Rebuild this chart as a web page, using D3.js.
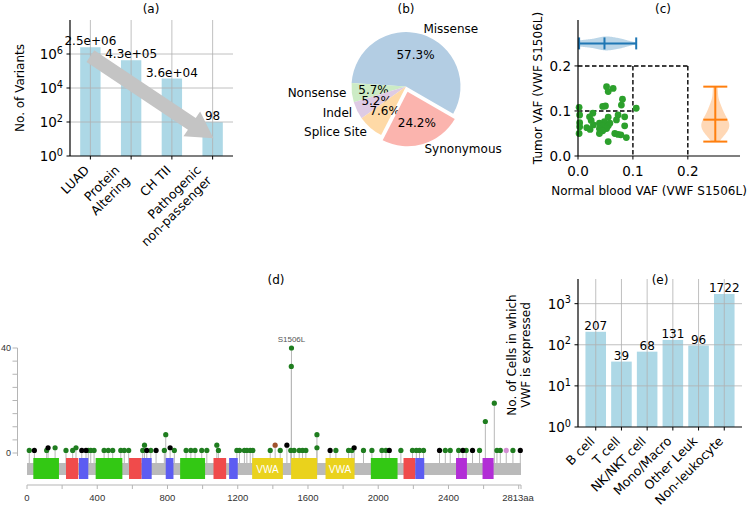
<!DOCTYPE html>
<html>
<head>
<meta charset="utf-8">
<script src="https://cdnjs.cloudflare.com/ajax/libs/d3/7.8.5/d3.min.js"></script>
<style>
body { margin: 0; background: #fff; }
svg { display: block; font-family: "DejaVu Sans", sans-serif; }
</style>
</head>
<body>
<div id="fig"></div>
<script>
// (a) variant funnel
var variantCats = ["LUAD", "Protein\nAltering", "CH TII", "Pathogenic\nnon-passenger"];
var variantCounts = [2.5e6, 4.3e5, 3.6e4, 98];
var variantLabels = ["2.5e+06", "4.3e+05", "3.6e+04", "98"];
var variantTicks = [1, 1e2, 1e4, 1e6];
var arrowFrom = [0, 7.5e5];
var arrowTo = [3.02, 11];

// (b) consequence pie
var pieCats = ["Missense", "Nonsense", "Indel", "Splice Site", "Synonymous"];
var pieShares = [57.3, 5.7, 5.2, 7.6, 24.2];
var pieColors = ["#b3cde3", "#ccebc5", "#decbe4", "#fed9a6", "#fbb4ae"];
var pieExplode = [0, 0, 0, 0, 0.1];

// (c) VAF scatter
var normalVaf = [0.052, 0.064, 0.055, 0.081, 0.079, 0.050, 0.045, 0.002, 0.106, 0.027, 0.073, 0.003, 0.021,
  0.055, 0.085, 0.070, 0.024, 0.003, 0.048, 0.039, 0.058, 0.028, 0.045, 0.055, 0.016, 0.085, 0.039, 0.052,
  0.022, 0.045, 0.002, 0.067, 0.073, 0.078, 0.088, 0.039, 0.055, 0.003];
var tumorVaf = [0.154, 0.150, 0.143, 0.126, 0.113, 0.111, 0.110, 0.108, 0.106, 0.095, 0.091, 0.091, 0.087,
  0.086, 0.087, 0.080, 0.079, 0.074, 0.076, 0.073, 0.073, 0.069, 0.067, 0.067, 0.063, 0.067, 0.061, 0.061,
  0.059, 0.056, 0.050, 0.050, 0.048, 0.047, 0.041, 0.050, 0.032, 0.065];
var vafTicks = [0, 0.1, 0.2];
var boxEdges = [0.1, 0.2];

// (d) lollipop
var protLen = 2813;
var domStart = [36, 222, 296, 391, 581, 653, 790, 872, 1062, 1151, 1282, 1504, 1700, 1958, 2144, 2211, 2443, 2594];
var domEnd = [182, 292, 349, 543, 653, 710, 834, 1014, 1134, 1200, 1457, 1652, 1865, 2110, 2211, 2262, 2505, 2657];
var domType = ["VWD", "C8", "TIL", "VWD", "C8", "TIL", "TIL", "VWD", "C8", "TIL", "VWA", "VWA", "VWA", "VWD", "C8", "TIL", "VWC", "VWC"];
var domLabel = ["", "", "", "", "", "", "", "", "", "", "VWA", "", "VWA", "", "", "", "", ""];
var mutPos = [13, 112, 222, 260, 349, 363, 382, 439, 463, 488, 534, 554, 579, 659, 705, 782, 839, 906, 933, 957,
  995, 1024, 1090, 1195, 1210, 1238, 1252, 1271, 1286, 1385, 1442, 1502, 1521, 1550, 1569, 1588, 1759, 1831,
  1850, 1916, 1964, 2021, 2044, 2129, 2195, 2217, 2235, 2258, 2382, 2410, 2458, 2501, 2577, 2676, 2695, 2767,
  42, 312, 336, 682, 735, 1726, 2063, 2349, 2482, 2537, 2809, 2729,
  120, 160, 279, 669, 790, 815, 1081, 1413, 1480, 1505, 1506, 1651, 1651, 1863, 2610, 2661];
var mutCount = [1, 1, 1, 1, 1, 1, 1, 1, 1, 1, 1, 1, 1, 1, 1, 1, 1, 1, 1, 1,
  1, 1, 1, 1, 1, 1, 1, 1, 1, 1, 1, 1, 1, 1, 1, 1, 1, 1,
  1, 1, 1, 1, 1, 1, 1, 1, 1, 1, 1, 1, 1, 1, 1, 1, 1, 1,
  1, 1, 1, 1, 1, 1, 1, 1, 1, 1, 1, 1,
  2, 2, 2, 3, 7, 2, 3, 3, 3, 33, 40, 7, 2, 2, 12, 19];
var mutType = ["mis", "mis", "mis", "mis", "mis", "mis", "mis", "mis", "mis", "mis", "mis", "mis", "mis", "mis", "mis", "mis", "mis", "mis", "mis", "mis",
  "mis", "mis", "mis", "mis", "mis", "mis", "mis", "mis", "mis", "mis", "mis", "mis", "mis", "mis", "mis", "mis", "mis", "mis",
  "mis", "mis", "mis", "mis", "mis", "mis", "mis", "mis", "mis", "mis", "mis", "mis", "mis", "mis", "mis", "mis", "mis", "mis",
  "trunc", "trunc", "trunc", "trunc", "trunc", "trunc", "trunc", "trunc", "trunc", "trunc", "trunc", "other",
  "trunc", "mis", "mis", "mis", "mis", "trunc", "mis", "inframe", "trunc", "mis", "mis", "mis", "mis", "trunc", "mis", "mis"];
var hotspotPos = 1506;
var hotspotLabel = "S1506L";
var aaTicks = [0, 400, 800, 1200, 1600, 2000, 2400];

// (e) single-cell expression
var cellTypes = ["B cell", "T cell", "NK/NKT cell", "Mono/Macro", "Other Leuk", "Non-leukocyte"];
var cellCounts = [207, 39, 68, 131, 96, 1722];
var cellTicks = [1, 10, 100, 1000];

var domColor = {VWD: "#33c814", C8: "#f04b4b", TIL: "#5c5cf2", VWA: "#ead21c", VWC: "#b22ed6"};
var mutColor = {mis: "#1f7d1f", trunc: "#000000", inframe: "#a0522d", other: "#d48fd4"};
var grid = "#b0b0b0";

var svg = d3.select("#fig").append("svg")
    .attr("width", 756)
    .attr("height", 510);

function pow10(g, x, y, v, fs) {
    var e = Math.round(Math.log10(v));
    var t = g.append("text").attr("x", x).attr("y", y)
        .attr("text-anchor", "end").attr("dominant-baseline", "central")
        .style("font-size", fs + "px");
    t.append("tspan").text("10");
    t.append("tspan").attr("dy", "-0.45em").style("font-size", (fs * 0.72) + "px").text(e);
}

function rotLabel(g, x, y, txt, fs) {
    var lines = txt.split("\n");
    var lh = fs * 1.17;
    var H = lines.length * lh;
    var t = g.append("g").attr("transform", "translate(" + (x - 0.707 * H) + "," + y + ") rotate(-45)");
    lines.forEach(function(l, i) {
        t.append("text").attr("x", 0).attr("y", fs * 0.9 + i * lh)
            .attr("text-anchor", "end").style("font-size", fs + "px").text(l);
    });
}

function spines(g, x0, x1, y0, y1) {
    g.append("line").attr("x1", x0).attr("x2", x0).attr("y1", y0).attr("y2", y1)
        .attr("stroke", "#000").attr("stroke-width", 1.2);
    g.append("line").attr("x1", x0).attr("x2", x1).attr("y1", y1).attr("y2", y1)
        .attr("stroke", "#000").attr("stroke-width", 1.2);
}

// ---------- (a)
var gA = svg.append("g");
var xA = d3.scaleLinear().domain([-0.5, 3.5]).range([70, 233]);
var yA = d3.scaleLog().domain([1, 1e8]).range([156, 20]);
gA.append("text").attr("x", 151).attr("y", 13).attr("text-anchor", "middle").style("font-size", "12px").text("(a)");
gA.selectAll("rect").data(variantCounts).enter().append("rect")
    .attr("x", function(d, i) { return xA(i - 0.25); })
    .attr("width", xA(0.25) - xA(-0.25))
    .attr("y", function(d) { return yA(d); })
    .attr("height", function(d) { return 156 - yA(d); })
    .attr("fill", "#add8e6");
gA.selectAll(".gy").data(variantTicks.slice(1)).enter().append("line")
    .attr("x1", 70).attr("x2", 233)
    .attr("y1", function(d) { return yA(d); }).attr("y2", function(d) { return yA(d); })
    .attr("stroke", grid).attr("stroke-width", 0.8);
gA.selectAll(".gx").data(variantCats).enter().append("line")
    .attr("x1", function(d, i) { return xA(i); }).attr("x2", function(d, i) { return xA(i); })
    .attr("y1", 20).attr("y2", 156)
    .attr("stroke", grid).attr("stroke-width", 0.8);

// arrow
(function() {
    var ax = xA(arrowFrom[0]), ay = yA(arrowFrom[1]);
    var bx = xA(arrowTo[0]), by = yA(arrowTo[1]);
    var dx = bx - ax, dy = by - ay, L = Math.sqrt(dx * dx + dy * dy);
    var ux = dx / L, uy = dy / L, px = -uy, py = ux;
    var w = 7, hw = 15, hl = 26;
    var hx = bx - ux * hl, hy = by - uy * hl;
    var pts = [
        [ax + px * w, ay + py * w], [hx + px * w, hy + py * w], [hx + px * hw, hy + py * hw], [bx, by],
        [hx - px * hw, hy - py * hw], [hx - px * w, hy - py * w], [ax - px * w, ay - py * w]
    ];
    gA.append("path").attr("d", "M" + pts.join("L") + "Z").attr("fill", "#c4c4c4");
})();

gA.selectAll(".vl").data(variantLabels).enter().append("text")
    .attr("x", function(d, i) { return xA(i); })
    .attr("y", function(d, i) { return yA(variantCounts[i]) - 2; })
    .attr("text-anchor", "middle").style("font-size", "12px")
    .text(function(d) { return d; });
spines(gA, 70, 233, 20, 156);
variantTicks.forEach(function(t) {
    gA.append("line").attr("x1", 66.5).attr("x2", 70).attr("y1", yA(t)).attr("y2", yA(t)).attr("stroke", "#000");
    pow10(gA, 63, yA(t), t, 13.5);
});
variantCats.forEach(function(c, i) {
    gA.append("line").attr("x1", xA(i)).attr("x2", xA(i)).attr("y1", 156).attr("y2", 159.5).attr("stroke", "#000");
    rotLabel(gA, xA(i) + 2, 163, c, 12.5);
});
gA.append("text").attr("transform", "translate(24,88) rotate(-90)")
    .attr("text-anchor", "middle").style("font-size", "12px").text("No. of Variants");

// ---------- (b)
var gB = svg.append("g");
var cx = 406, cy = 86.5, R = 54.5;
gB.append("text").attr("x", 406).attr("y", 13).attr("text-anchor", "middle").style("font-size", "12px").text("(b)");
var pie = d3.pie().sort(null).value(function(d) { return d; })
    .startAngle((90 + 30) * Math.PI / 180).endAngle((90 + 30 - 360) * Math.PI / 180);
var arcs = pie(pieShares);
var arc = d3.arc().innerRadius(0).outerRadius(R);
arcs.forEach(function(a, i) {
    var mid = (a.startAngle + a.endAngle) / 2;
    var sx = Math.sin(mid), sy = -Math.cos(mid);
    var ox = cx + sx * R * pieExplode[i], oy = cy + sy * R * pieExplode[i];
    var g = gB.append("g").attr("transform", "translate(" + ox + "," + oy + ")");
    g.append("path").attr("d", arc(a)).attr("fill", pieColors[i]);
    g.append("text").attr("x", sx * R * 0.6).attr("y", sy * R * 0.6)
        .attr("text-anchor", "middle").attr("dominant-baseline", "central")
        .style("font-size", "12px").text(pieShares[i].toFixed(1) + "%");
    g.append("text").attr("x", sx * R * 1.1).attr("y", sy * R * 1.1)
        .attr("text-anchor", sx > 0 ? "start" : "end").attr("dominant-baseline", "central")
        .style("font-size", "12px").text(pieCats[i]);
});

// ---------- (c)
var gC = svg.append("g");
var xC = d3.scaleLinear().domain([0, 0.295]).range([578, 740]);
var yC = d3.scaleLinear().domain([0, 0.302]).range([156, 20]);
gC.append("text").attr("x", 663).attr("y", 13).attr("text-anchor", "middle").style("font-size", "12px").text("(c)");

function kde(vals) {
    var n = vals.length, bw = d3.deviation(vals) * Math.pow(n, -0.2);
    var lo = d3.min(vals), hi = d3.max(vals);
    var pts = d3.range(0, 101).map(function(i) {
        var v = lo + (hi - lo) * i / 100;
        return [v, d3.mean(vals, function(x) { var z = (v - x) / bw; return Math.exp(-0.5 * z * z); })];
    });
    var m = d3.max(pts, function(p) { return p[1]; });
    return pts.map(function(p) { return [p[0], p[1] / m]; });
}

// dashed threshold boxes
var bMax = d3.max(boxEdges);
boxEdges.forEach(function(b) {
    gC.append("line").attr("x1", xC(0)).attr("x2", xC(b)).attr("y1", yC(b)).attr("y2", yC(b))
        .attr("stroke", "#000").attr("stroke-width", 1.4).attr("stroke-dasharray", "4.5,2.5");
    gC.append("line").attr("x1", xC(b)).attr("x2", xC(b)).attr("y1", yC(bMax)).attr("y2", yC(0))
        .attr("stroke", "#000").attr("stroke-width", 1.4).attr("stroke-dasharray", "4.5,2.5");
});
gC.selectAll("circle").data(normalVaf).enter().append("circle")
    .attr("cx", function(d) { return xC(d); })
    .attr("cy", function(d, i) { return yC(tumorVaf[i]); })
    .attr("r", 3.4).attr("fill", "#2ca02c");

// horizontal violin for normal VAF
var vy = yC(0.25);
var kx = kde(normalVaf);
gC.append("path").datum(kx)
    .attr("d", d3.area().x(function(p) { return xC(p[0]); })
        .y0(function(p) { return vy - p[1] * 7; }).y1(function(p) { return vy + p[1] * 7; }))
    .attr("fill", "#1f77b4").attr("fill-opacity", 0.3);
var nMin = d3.min(normalVaf), nMax = d3.max(normalVaf), nMean = d3.mean(normalVaf);
gC.append("line").attr("x1", xC(nMin)).attr("x2", xC(nMax)).attr("y1", vy).attr("y2", vy)
    .attr("stroke", "#1f77b4").attr("stroke-width", 2);
[nMin, nMax, nMean].forEach(function(v) {
    gC.append("line").attr("x1", xC(v)).attr("x2", xC(v)).attr("y1", vy - 6).attr("y2", vy + 6)
        .attr("stroke", "#1f77b4").attr("stroke-width", 2);
});

// vertical violin for tumor VAF
var vx = xC(0.25);
var ky = kde(tumorVaf);
gC.append("path").datum(ky)
    .attr("d", d3.area().y(function(p) { return yC(p[0]); })
        .x0(function(p) { return vx - p[1] * 14; }).x1(function(p) { return vx + p[1] * 14; }))
    .attr("fill", "#ff7f0e").attr("fill-opacity", 0.3);
var tMin = d3.min(tumorVaf), tMax = d3.max(tumorVaf), tMean = d3.mean(tumorVaf);
gC.append("line").attr("x1", vx).attr("x2", vx).attr("y1", yC(tMin)).attr("y2", yC(tMax))
    .attr("stroke", "#ff7f0e").attr("stroke-width", 2);
[tMin, tMax, tMean].forEach(function(v) {
    gC.append("line").attr("x1", vx - 12).attr("x2", vx + 12).attr("y1", yC(v)).attr("y2", yC(v))
        .attr("stroke", "#ff7f0e").attr("stroke-width", 2);
});

spines(gC, 578, 740, 20, 156);
vafTicks.forEach(function(t) {
    gC.append("line").attr("x1", xC(t)).attr("x2", xC(t)).attr("y1", 156).attr("y2", 159.5).attr("stroke", "#000");
    gC.append("text").attr("x", xC(t)).attr("y", 176).attr("text-anchor", "middle")
        .style("font-size", "13.5px").text(d3.format(".1f")(t));
    gC.append("line").attr("x1", 574.5).attr("x2", 578).attr("y1", yC(t)).attr("y2", yC(t)).attr("stroke", "#000");
    gC.append("text").attr("x", 571).attr("y", yC(t)).attr("text-anchor", "end").attr("dominant-baseline", "central")
        .style("font-size", "13.5px").text(d3.format(".1f")(t));
});
gC.append("text").attr("x", 649).attr("y", 195).attr("text-anchor", "middle")
    .style("font-size", "12px").text("Normal blood VAF (VWF S1506L)");
gC.append("text").attr("transform", "translate(542,88) rotate(-90)")
    .attr("text-anchor", "middle").style("font-size", "12px").text("Tumor VAF (VWF S1506L)");

// ---------- (d)
var gD = svg.append("g").style("font-family", "'Liberation Sans', Arial, sans-serif");
var xD = d3.scaleLinear().domain([0, protLen]).range([27, 521]);
var yD = d3.scaleLinear().domain([0, 40]).range([453, 348]);
svg.append("text").attr("x", 276).attr("y", 284).attr("text-anchor", "middle").style("font-size", "12px").text("(d)");

gD.append("line").attr("x1", 17.5).attr("x2", 17.5).attr("y1", yD(40)).attr("y2", yD(0) + 3)
    .attr("stroke", "#b5b5b5").attr("stroke-width", 1);
d3.range(0, 41, 5).forEach(function(t) {
    gD.append("line").attr("x1", 12.5).attr("x2", 17.5).attr("y1", yD(t)).attr("y2", yD(t))
        .attr("stroke", "#b5b5b5");
});
[0, 40].forEach(function(t) {
    gD.append("text").attr("x", 11).attr("y", yD(t)).attr("text-anchor", "end").attr("dominant-baseline", "central")
        .style("font-size", "9px").attr("fill", "#333").text(t);
});

var order = d3.range(mutPos.length).sort(function(a, b) { return mutCount[a] - mutCount[b]; });
gD.selectAll(".stem").data(order).enter().append("line")
    .attr("x1", function(i) { return xD(mutPos[i]); }).attr("x2", function(i) { return xD(mutPos[i]); })
    .attr("y1", 463).attr("y2", function(i) { return yD(mutCount[i]); })
    .attr("stroke", "#b8b8b8").attr("stroke-width", 1);

gD.append("rect").attr("x", xD(0)).attr("width", xD(protLen) - xD(0))
    .attr("y", 463).attr("height", 12).attr("fill", "#bababa");
gD.selectAll(".dom").data(domStart).enter().append("rect")
    .attr("x", function(d) { return xD(d); })
    .attr("width", function(d, i) { return xD(domEnd[i]) - xD(d); })
    .attr("y", 458).attr("height", 21)
    .attr("fill", function(d, i) { return domColor[domType[i]]; });
gD.selectAll(".doml").data(domStart).enter().append("text")
    .attr("x", function(d, i) { return (xD(d) + xD(domEnd[i])) / 2; })
    .attr("y", 469).attr("text-anchor", "middle").attr("dominant-baseline", "central")
    .style("font-size", "10px").attr("fill", "#fff")
    .text(function(d, i) { return domLabel[i]; });

gD.selectAll(".dot").data(order).enter().append("circle")
    .attr("cx", function(i) { return xD(mutPos[i]); })
    .attr("cy", function(i) { return yD(mutCount[i]); })
    .attr("r", 2.6)
    .attr("fill", function(i) { return mutColor[mutType[i]]; });
gD.append("text").attr("x", xD(hotspotPos)).attr("y", yD(40) - 6).attr("text-anchor", "middle")
    .style("font-size", "8px").attr("fill", "#555").text(hotspotLabel);

gD.append("line").attr("x1", xD(0)).attr("x2", xD(protLen)).attr("y1", 485).attr("y2", 485)
    .attr("stroke", "#b5b5b5");
d3.range(0, protLen, 200).concat([protLen]).forEach(function(t) {
    gD.append("line").attr("x1", xD(t)).attr("x2", xD(t)).attr("y1", 485).attr("y2", 489)
        .attr("stroke", "#b5b5b5");
});
aaTicks.forEach(function(t) {
    gD.append("text").attr("x", xD(t)).attr("y", 501).attr("text-anchor", "middle")
        .style("font-size", "9.5px").attr("fill", "#333").text(t);
});
gD.append("text").attr("x", xD(protLen) - 3).attr("y", 501).attr("text-anchor", "middle")
    .style("font-size", "9.5px").attr("fill", "#333").text(protLen + "aa");

// ---------- (e)
var gE = svg.append("g");
var xE = d3.scaleLinear().domain([-0.69, 5.69]).range([578, 742]);
var yE = d3.scaleLog().domain([1, Math.pow(10, 3.6)]).range([427, 279]);
gE.append("text").attr("x", 660).attr("y", 284).attr("text-anchor", "middle").style("font-size", "12px").text("(e)");
gE.selectAll("rect").data(cellCounts).enter().append("rect")
    .attr("x", function(d, i) { return xE(i - 0.4); })
    .attr("width", xE(0.4) - xE(-0.4))
    .attr("y", function(d) { return yE(d); })
    .attr("height", function(d) { return 427 - yE(d); })
    .attr("fill", "#add8e6");
gE.selectAll(".gy").data(cellTicks.slice(1)).enter().append("line")
    .attr("x1", 578).attr("x2", 742)
    .attr("y1", function(d) { return yE(d); }).attr("y2", function(d) { return yE(d); })
    .attr("stroke", grid).attr("stroke-width", 0.8);
gE.selectAll(".gx").data(cellTypes).enter().append("line")
    .attr("x1", function(d, i) { return xE(i); }).attr("x2", function(d, i) { return xE(i); })
    .attr("y1", 279).attr("y2", 427)
    .attr("stroke", grid).attr("stroke-width", 0.8);
gE.selectAll(".vl").data(cellCounts).enter().append("text")
    .attr("x", function(d, i) { return xE(i); })
    .attr("y", function(d) { return yE(d) - 2; })
    .attr("text-anchor", "middle").style("font-size", "12px")
    .text(function(d) { return d; });
spines(gE, 578, 742, 279, 427);
cellTicks.forEach(function(t) {
    gE.append("line").attr("x1", 574.5).attr("x2", 578).attr("y1", yE(t)).attr("y2", yE(t)).attr("stroke", "#000");
    pow10(gE, 571, yE(t), t, 13.5);
});
cellTypes.forEach(function(c, i) {
    gE.append("line").attr("x1", xE(i)).attr("x2", xE(i)).attr("y1", 427).attr("y2", 430.5).attr("stroke", "#000");
    rotLabel(gE, xE(i) + 2, 434, c, 12.5);
});
var yl = gE.append("g").attr("transform", "translate(517,355) rotate(-90)");
yl.append("text").attr("y", -1).attr("text-anchor", "middle").style("font-size", "12px").text("No. of Cells in which");
yl.append("text").attr("y", 13).attr("text-anchor", "middle").style("font-size", "12px").text("VWF is expressed");
</script>
</body>
</html>
